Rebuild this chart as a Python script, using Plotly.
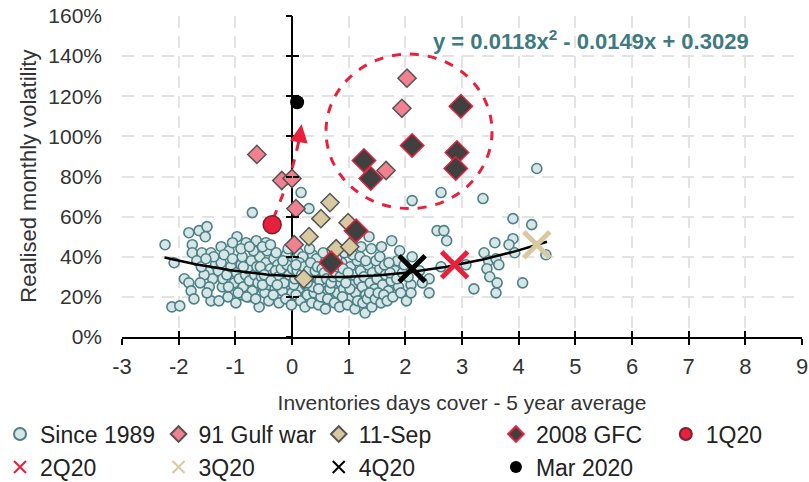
import plotly.graph_objects as go

# ---------------- data ----------------
since1989_points = [
    # left outliers
    (-2.24, 0.46), (-2.08, 0.37), (-1.90, 0.29), (-1.82, 0.27), (-1.78, 0.23), (-1.73, 0.19),
    (-2.12, 0.15), (-1.98, 0.155),
    # upper left
    (-1.82, 0.52), (-1.64, 0.53), (-1.50, 0.55), (-1.53, 0.50), (-1.76, 0.46), (-1.76, 0.42),
    (-1.59, 0.42), (-1.43, 0.42), (-1.68, 0.38), (-1.25, 0.45), (-1.11, 0.43), (-0.97, 0.50),
    (-0.81, 0.47), (-0.63, 0.48), (-0.46, 0.47), (-0.70, 0.62),
    (-1.46, 0.33), (-1.40, 0.29), (-1.35, 0.36), (-1.55, 0.31), (-1.60, 0.35),
    # lower left
    (-1.46, 0.25), (-1.23, 0.25), (-1.43, 0.18), (-1.29, 0.18), (-1.13, 0.20), (-0.99, 0.17),
    (-0.88, 0.21), (-0.76, 0.20), (-0.58, 0.15), (-0.67, 0.24),
    # core
    (-1.30, 0.33), (-1.22, 0.29), (-1.15, 0.31), (-1.08, 0.35), (-1.02, 0.27), (-0.98, 0.32),
    (-0.93, 0.29), (-0.90, 0.36), (-0.86, 0.25), (-0.82, 0.31), (-0.78, 0.34), (-0.75, 0.28),
    (-0.72, 0.38), (-0.70, 0.23), (-0.66, 0.31), (-0.62, 0.35), (-0.60, 0.27), (-0.57, 0.40),
    (-0.54, 0.30), (-0.51, 0.33), (-0.48, 0.22), (-0.46, 0.37), (-0.43, 0.29), (-0.40, 0.26),
    (-0.38, 0.34), (-0.35, 0.31), (-0.32, 0.39), (-0.30, 0.24), (-0.27, 0.28), (-0.25, 0.36),
    (-0.22, 0.32), (-0.20, 0.20), (-0.18, 0.27), (-0.15, 0.35), (-0.13, 0.30), (-0.10, 0.41),
    (-0.08, 0.25), (-0.06, 0.33), (-0.04, 0.28), (-0.02, 0.37), (0.00, 0.22), (0.02, 0.31),
    (0.04, 0.35), (0.06, 0.27), (0.08, 0.39), (0.10, 0.30), (0.12, 0.24), (0.14, 0.33),
    (0.16, 0.36), (0.18, 0.28), (0.20, 0.19), (0.22, 0.32), (0.24, 0.26), (0.26, 0.38),
    (0.28, 0.30), (0.30, 0.23), (0.32, 0.34), (0.34, 0.28), (0.36, 0.41), (0.38, 0.31),
    (0.40, 0.26), (0.42, 0.36), (0.44, 0.21), (0.46, 0.29), (0.48, 0.33), (0.50, 0.25),
    (0.52, 0.38), (0.54, 0.30), (0.56, 0.18), (0.58, 0.27), (0.60, 0.35), (0.62, 0.23),
    (0.64, 0.31), (0.66, 0.28), (0.68, 0.40), (0.70, 0.20), (0.72, 0.33), (0.74, 0.26),
    (0.76, 0.36), (0.78, 0.29), (0.80, 0.22), (0.83, 0.31), (0.86, 0.27), (0.88, 0.37),
    (0.91, 0.24), (0.94, 0.33), (0.97, 0.29), (1.00, 0.19), (1.03, 0.35), (1.06, 0.26),
    (1.09, 0.31), (1.12, 0.22), (1.15, 0.38), (1.18, 0.28), (1.21, 0.33), (1.24, 0.25),
    (1.27, 0.30), (1.30, 0.21), (1.34, 0.36), (1.38, 0.27), (1.42, 0.32), (1.46, 0.24),
    (1.50, 0.29), (1.55, 0.34), (1.60, 0.26), (1.65, 0.31), (1.70, 0.23), (1.75, 0.28),
    (1.82, 0.33), (1.88, 0.25),
    (-1.25, 0.37), (-1.12, 0.25), (-0.95, 0.22), (-0.88, 0.40), (-0.80, 0.20), (-0.68, 0.43),
    (-0.64, 0.19), (-0.52, 0.26), (-0.44, 0.43), (-0.41, 0.18), (-0.33, 0.21), (-0.28, 0.42),
    (-0.23, 0.17), (-0.17, 0.23), (-0.11, 0.19), (-0.07, 0.44), (-0.01, 0.16), (0.03, 0.26),
    (0.07, 0.21), (0.11, 0.42), (0.15, 0.18), (0.19, 0.40), (0.23, 0.15), (0.27, 0.21),
    (0.31, 0.44), (0.35, 0.17), (0.39, 0.22), (0.43, 0.39), (0.47, 0.16), (0.51, 0.20),
    (0.55, 0.42), (0.59, 0.14), (0.63, 0.19), (0.67, 0.24), (0.71, 0.43), (0.75, 0.17),
    (0.79, 0.39), (0.84, 0.15), (0.89, 0.20), (0.93, 0.42), (0.98, 0.16), (1.02, 0.24),
    (1.07, 0.41), (1.11, 0.14), (1.16, 0.18), (1.20, 0.40), (1.25, 0.17), (1.29, 0.12),
    (1.33, 0.19), (1.37, 0.22), (1.41, 0.15), (1.47, 0.19), (1.52, 0.22), (1.57, 0.17),
    (1.62, 0.21), (1.68, 0.18), (1.73, 0.32), (1.78, 0.20), (1.85, 0.29), (1.92, 0.22),
    (-0.29, 0.33), (-0.24, 0.30), (-0.19, 0.34), (-0.14, 0.27), (-0.09, 0.36), (-0.05, 0.31),
    (0.01, 0.34), (0.05, 0.29), (0.09, 0.33), (0.13, 0.37), (0.17, 0.31), (0.21, 0.35),
    (0.25, 0.29), (0.29, 0.33), (0.33, 0.37), (0.37, 0.25), (0.41, 0.33), (0.45, 0.35),
    (0.49, 0.28), (0.53, 0.34), (0.57, 0.32), (0.61, 0.29), (0.65, 0.35), (0.69, 0.27),
    (0.73, 0.30), (0.77, 0.32), (0.81, 0.35), (0.85, 0.30), (0.90, 0.34), (0.95, 0.27),
    (-0.56, 0.35), (-0.49, 0.31), (-0.37, 0.28), (-0.26, 0.26), (-0.16, 0.38), (0.07, 0.36),
    (0.27, 0.27), (0.47, 0.24), (0.63, 0.37), (0.99, 0.32),
    (-1.05, 0.47), (-0.90, 0.44), (-0.75, 0.45), (-0.52, 0.45), (-0.38, 0.46), (-1.20, 0.41),
    (-1.38, 0.40), (-1.52, 0.39), (-1.62, 0.27), (-1.50, 0.22), (-1.05, 0.39), (-0.86, 0.35),
    (1.40, 0.44), (1.58, 0.45), (1.63, 0.36), (1.86, 0.38), (1.90, 0.43), (1.48, 0.38),
    # upper middle
    (0.16, 0.72), (0.30, 0.64), (1.36, 0.50), (1.22, 0.45), (1.30, 0.38), (1.76, 0.48),
    (1.71, 0.37), (1.55, 0.40), (1.95, 0.32), (2.02, 0.18),
    # right side
    (2.12, 0.68), (2.63, 0.72), (3.37, 0.69), (3.90, 0.59), (4.23, 0.56), (4.32, 0.84),
    (2.56, 0.53), (2.68, 0.53), (2.73, 0.48), (3.58, 0.47), (3.90, 0.49), (3.83, 0.46),
    (3.93, 0.42), (3.39, 0.42), (3.47, 0.38), (3.60, 0.39), (3.65, 0.36), (3.44, 0.34),
    (3.49, 0.30), (3.62, 0.27), (3.60, 0.22), (3.21, 0.24), (4.07, 0.27), (4.48, 0.41),
    (3.07, 0.36), (2.63, 0.35), (2.42, 0.29), (2.42, 0.22), (2.12, 0.40), (2.10, 0.26),
    (2.10, 0.22), (2.05, 0.30), (1.98, 0.36), (2.25, 0.33), (2.30, 0.27),
]
since1989_x = [p[0] for p in since1989_points]
since1989_y = [p[1] for p in since1989_points]

gulf_x = [-0.62, -0.18, 0.00, 0.07, 0.04, 2.03, 1.94, 1.66]
gulf_y = [0.91, 0.78, 0.79, 0.64, 0.46, 1.29, 1.14, 0.83]

sep11_x = [0.67, 0.51, 0.30, 0.99, 0.78, 1.02, 0.21]
sep11_y = [0.67, 0.59, 0.50, 0.57, 0.44, 0.45, 0.29]

gfc_x = [1.27, 1.39, 2.12, 2.98, 2.91, 2.89, 1.13, 0.69]
gfc_y = [0.88, 0.79, 0.955, 1.15, 0.92, 0.84, 0.53, 0.37]

q1_x, q1_y = [-0.35], [0.56]
q2_x, q2_y = [2.87], [0.36]
q3_x, q3_y = [4.32], [0.46]
q4_x, q4_y = [2.12], [0.34]
mar_x, mar_y = [0.09], [1.17]

# quadratic trend (coefficients shown on the chart)
trend_a, trend_b, trend_c = 0.0118, -0.0149, 0.3029
trend_x = [-2.25 + i * 0.05 for i in range(136)]
trend_y = [trend_a * x * x + trend_b * x + trend_c for x in trend_x]

# annotation helpers
arrow_path_x = [-0.33, -0.15, 0.02, 0.13]
arrow_path_y = [0.59, 0.72, 0.86, 0.99]

x_ticks = list(range(-3, 10))
y_ticks = [0, 0.2, 0.4, 0.6, 0.8, 1.0, 1.2, 1.4, 1.6]

FONT = "Liberation Sans, Arial, sans-serif"
TEAL = "#4E8187"
RED = "#E8203C"
PINK = "#F2808F"
TAN = "#D9C9A0"

fig = go.Figure()

fig.add_trace(go.Scatter(
    x=since1989_x, y=since1989_y, mode="markers", name="Since 1989", legend="legend",
    marker=dict(symbol="circle", size=10, color="#D6E6E7", line=dict(color=TEAL, width=1.6)),
))
fig.add_trace(go.Scatter(
    x=trend_x, y=trend_y, mode="lines", showlegend=False,
    line=dict(color="black", width=2.5), hoverinfo="skip",
))
fig.add_trace(go.Scatter(
    x=arrow_path_x, y=arrow_path_y, mode="lines", showlegend=False,
    line=dict(color=RED, width=3, dash="dash", shape="spline"), hoverinfo="skip",
))
fig.add_trace(go.Scatter(
    x=gulf_x, y=gulf_y, mode="markers", name="91 Gulf war", legend="legend2",
    marker=dict(symbol="diamond", size=14, color=PINK, line=dict(color="#555555", width=1.5)),
))
fig.add_trace(go.Scatter(
    x=sep11_x, y=sep11_y, mode="markers", name="11-Sep", legend="legend3",
    marker=dict(symbol="diamond", size=14, color=TAN, line=dict(color="#555555", width=1.5)),
))
fig.add_trace(go.Scatter(
    x=gfc_x, y=gfc_y, mode="markers", name="2008 GFC", legend="legend4",
    marker=dict(symbol="diamond", size=18, color="#404040", line=dict(color=RED, width=1.5)),
))
fig.add_trace(go.Scatter(
    x=q1_x, y=q1_y, mode="markers", name="1Q20", legend="legend5",
    marker=dict(symbol="circle", size=18, color=RED, line=dict(color="#7A2030", width=1.5)),
))
fig.add_trace(go.Scatter(
    x=q2_x, y=q2_y, mode="markers", name="2Q20", legend="legend",
    marker=dict(symbol="x-thin", size=26, color=RED, line=dict(color=RED, width=5)),
))
fig.add_trace(go.Scatter(
    x=q3_x, y=q3_y, mode="markers", name="3Q20", legend="legend2",
    marker=dict(symbol="x-thin", size=26, color=TAN, line=dict(color=TAN, width=5)),
))
fig.add_trace(go.Scatter(
    x=q4_x, y=q4_y, mode="markers", name="4Q20", legend="legend3",
    marker=dict(symbol="x-thin", size=26, color="black", line=dict(color="black", width=5)),
))
fig.add_trace(go.Scatter(
    x=mar_x, y=mar_y, mode="markers", name="Mar 2020", legend="legend4",
    marker=dict(symbol="circle", size=14, color="black"),
))

# red dashed ellipse around the crisis cluster
fig.add_shape(type="circle", xref="x", yref="y", x0=0.60, x1=3.53, y0=0.64, y1=1.41,
              line=dict(color=RED, width=3, dash="dash"), layer="above")

# arrow head
fig.add_annotation(x=0.17, y=1.06, ax=arrow_path_x[-1], ay=arrow_path_y[-1],
                   xref="x", yref="y", axref="x", ayref="y", text="",
                   showarrow=True, arrowhead=2, arrowsize=1.2, arrowwidth=3, arrowcolor=RED)

# equation
fig.add_annotation(x=5.27, y=1.48, xref="x", yref="y", showarrow=False,
                   text="<b>y = 0.0118x<sup>2</sup> - 0.0149x + 0.3029</b>",
                   font=dict(family=FONT, size=22, color="#3E7A80"))

# y-axis title (as a rotated annotation, left of the tick labels)
fig.add_annotation(x=-0.138, y=0.5, xref="paper", yref="paper", showarrow=False,
                   text="Realised monthly volatility", textangle=-90,
                   xanchor="center", yanchor="middle",
                   font=dict(family=FONT, size=22, color="#333333"))

grid = dict(showgrid=True, gridcolor="#E3E3E3", gridwidth=2, griddash="12px,8px")


def legend_at(x_frac):
    return dict(orientation="v", xref="container", yref="container", x=x_frac, y=0.144,
                xanchor="left", yanchor="top", tracegroupgap=0,
                font=dict(family=FONT, size=23, color="#222222"),
                itemsizing="constant", bgcolor="rgba(0,0,0,0)")


fig.update_layout(
    width=809, height=482,
    margin=dict(l=122, r=7, t=16, b=145, autoexpand=False),
    plot_bgcolor="white", paper_bgcolor="white",
    font=dict(family=FONT, size=21, color="#404040"),
    showlegend=True,
    legend=legend_at(0.0),
    legend2=legend_at(0.196),
    legend3=legend_at(0.394),
    legend4=legend_at(0.613),
    legend5=legend_at(0.823),
    xaxis=dict(range=[-3, 9], tickvals=x_ticks, ticktext=[str(v) for v in x_ticks],
               showline=True, linecolor="black", linewidth=1.5,
               ticks="outside", ticklen=6, tickwidth=1.5, tickcolor="black",
               zeroline=True, zerolinecolor="black", zerolinewidth=1.5,
               ticklabelstandoff=3, automargin=False, ticklabeloverflow="allow",
               tickfont=dict(family=FONT, size=22, color="#333333"),
               title=dict(text="Inventories days cover - 5 year average",
                          font=dict(family=FONT, size=21, color="#333333"), standoff=17),
               **grid),
    xaxis2=dict(range=[-3, 9], tickvals=x_ticks, overlaying="x", anchor="y", side="bottom",
                showticklabels=False, ticks="inside", ticklen=6, tickwidth=1.5, tickcolor="black",
                showgrid=False, zeroline=False, showline=False),
    yaxis=dict(range=[0, 1.6], tickvals=y_ticks, tickformat=".0%",
               ticks="", showline=False, zeroline=False,
               ticklabelstandoff=19, automargin=False,
               tickfont=dict(family=FONT, size=21, color="#333333"),
               **grid),
    yaxis2=dict(range=[0, 1.6], tickvals=y_ticks, overlaying="y", anchor="free", position=0.25,
                showticklabels=False, ticks="outside", ticklen=6, tickwidth=1.5, tickcolor="black",
                showgrid=False, zeroline=False, showline=False),
    yaxis3=dict(range=[0, 1.6], tickvals=y_ticks, overlaying="y", anchor="free", position=0.25,
                showticklabels=False, ticks="inside", ticklen=6, tickwidth=1.5, tickcolor="black",
                showgrid=False, zeroline=False, showline=False),
)

# invisible traces so the tick-only overlay axes are drawn
fig.add_trace(go.Scatter(x=[None], y=[None], xaxis="x2", yaxis="y", showlegend=False, hoverinfo="skip"))
fig.add_trace(go.Scatter(x=[None], y=[None], xaxis="x", yaxis="y2", showlegend=False, hoverinfo="skip"))
fig.add_trace(go.Scatter(x=[None], y=[None], xaxis="x", yaxis="y3", showlegend=False, hoverinfo="skip"))

fig.write_html("out.html", config={"displayModeBar": False},
               post_script="document.body.style.margin='0px';document.body.style.overflow='hidden';")
